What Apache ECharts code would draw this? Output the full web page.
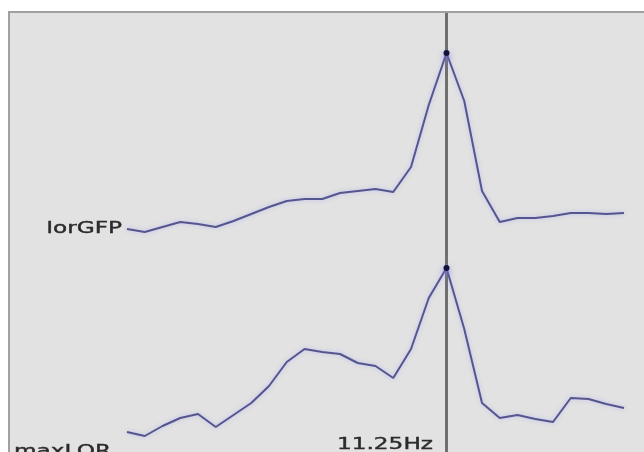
<!DOCTYPE html>
<html>
<head>
<meta charset="utf-8">
<script src="https://cdn.jsdelivr.net/npm/echarts@6/dist/echarts.min.js"></script>
<style>
html,body{margin:0;padding:0;background:#ffffff;}
#chart{width:644px;height:452px;}
</style>
</head>
<body>
<div id="chart"></div>
<script>
// Frequencies (Hz) of the spectral points
var freqs = [2.25, 2.75, 3.25, 3.75, 4.25, 4.75, 5.25, 5.75, 6.25, 6.75,
             7.25, 7.75, 8.25, 8.75, 9.25, 9.75, 10.25, 10.75, 11.25, 11.75,
             12.25, 12.75, 13.25, 13.75, 14.25, 14.75, 15.25, 15.75, 16.25];
// Relative power (arbitrary units) for each trace
var lorGFP = [3, 0, 5, 10, 8, 5, 11, 18, 25, 31,
              33, 33, 39, 41, 43, 40, 65, 127, 179, 131,
              41, 10, 14, 14, 16, 19, 19, 18, 19];
var maxLOR = [5, 1, 11, 19, 23, 10, 22, 34, 51, 75,
              88, 85, 83, 74, 71, 59, 88, 139, 169, 108,
              34, 19, 22, 18, 15, 39, 38, 33, 29];
var traceNames = ['lorGFP', 'maxLOR'];
var peakFreq = 11.25;

function pairs(vals) {
  return vals.map(function (v, i) { return [freqs[i], v]; });
}

var lineColor = '#55558f';
function makeSeries(name, vals, yIdx) {
  return {
    name: name,
    type: 'line',
    xAxisIndex: 0,
    yAxisIndex: yIdx,
    data: pairs(vals),
    showSymbol: false,
    smooth: false,
    silent: true,
    z: 3,
    lineStyle: {
      color: lineColor,
      width: 2,
      shadowColor: 'rgba(140,140,255,0.45)',
      shadowBlur: 4
    },
    markPoint: {
      symbol: 'circle',
      symbolSize: 6,
      silent: true,
      itemStyle: { color: '#12123c', shadowColor: 'rgba(130,130,240,0.8)', shadowBlur: 6, shadowOffsetY: 3 },
      label: { show: false },
      data: [{ type: 'max' }]
    }
  };
}

var chart = echarts.init(document.getElementById('chart'), null, { renderer: 'canvas' });
var s0 = makeSeries(traceNames[0], lorGFP, 0);
s0.markLine = {
  silent: true,
  symbol: 'none',
  label: { show: false },
  lineStyle: { color: '#707070', width: 3, type: 'solid' },
  data: [{ xAxis: peakFreq }],
  z: 1
};
var s1 = makeSeries(traceNames[1], maxLOR, 1);

var labelFont = '16px "DejaVu Sans", Verdana, sans-serif';
var labelStyle = function (text, align) {
  return { text: text, x: 0, y: 0, textAlign: align, textVerticalAlign: 'middle',
           font: labelFont, fill: '#2a2a2a', stroke: '#2a2a2a', lineWidth: 0.4 };
};
chart.setOption({
  animation: false,
  backgroundColor: '#ffffff',
  grid: {
    left: 8, top: 12, right: 0, bottom: 0,
    show: true,
    backgroundColor: '#e2e2e2',
    borderWidth: 0
  },
  xAxis: {
    type: 'value', min: -1.102, max: 16.813, show: false
  },
  yAxis: [
    { type: 'value', min: -220, max: 220, show: false },
    { type: 'value', min: -15, max: 425, show: false }
  ],
  series: [s0, s1],
  graphic: [
    { type: 'polyline', silent: true, z: 10,
      shape: { points: [[9, 452], [9, 12], [644, 12]] },
      style: { stroke: '#a0a0a0', lineWidth: 2, fill: null } },
    { type: 'text', x: 122, y: 229, scaleX: 1.45, silent: true, z: 10,
      style: labelStyle(traceNames[0], 'right') },
    { type: 'text', x: 14, y: 452, scaleX: 1.45, silent: true, z: 10,
      style: labelStyle(traceNames[1], 'left') },
    { type: 'text', x: 433, y: 445, scaleX: 1.45, silent: true, z: 10,
      style: labelStyle(peakFreq + 'Hz', 'right') }
  ]
});
</script>
</body>
</html>
